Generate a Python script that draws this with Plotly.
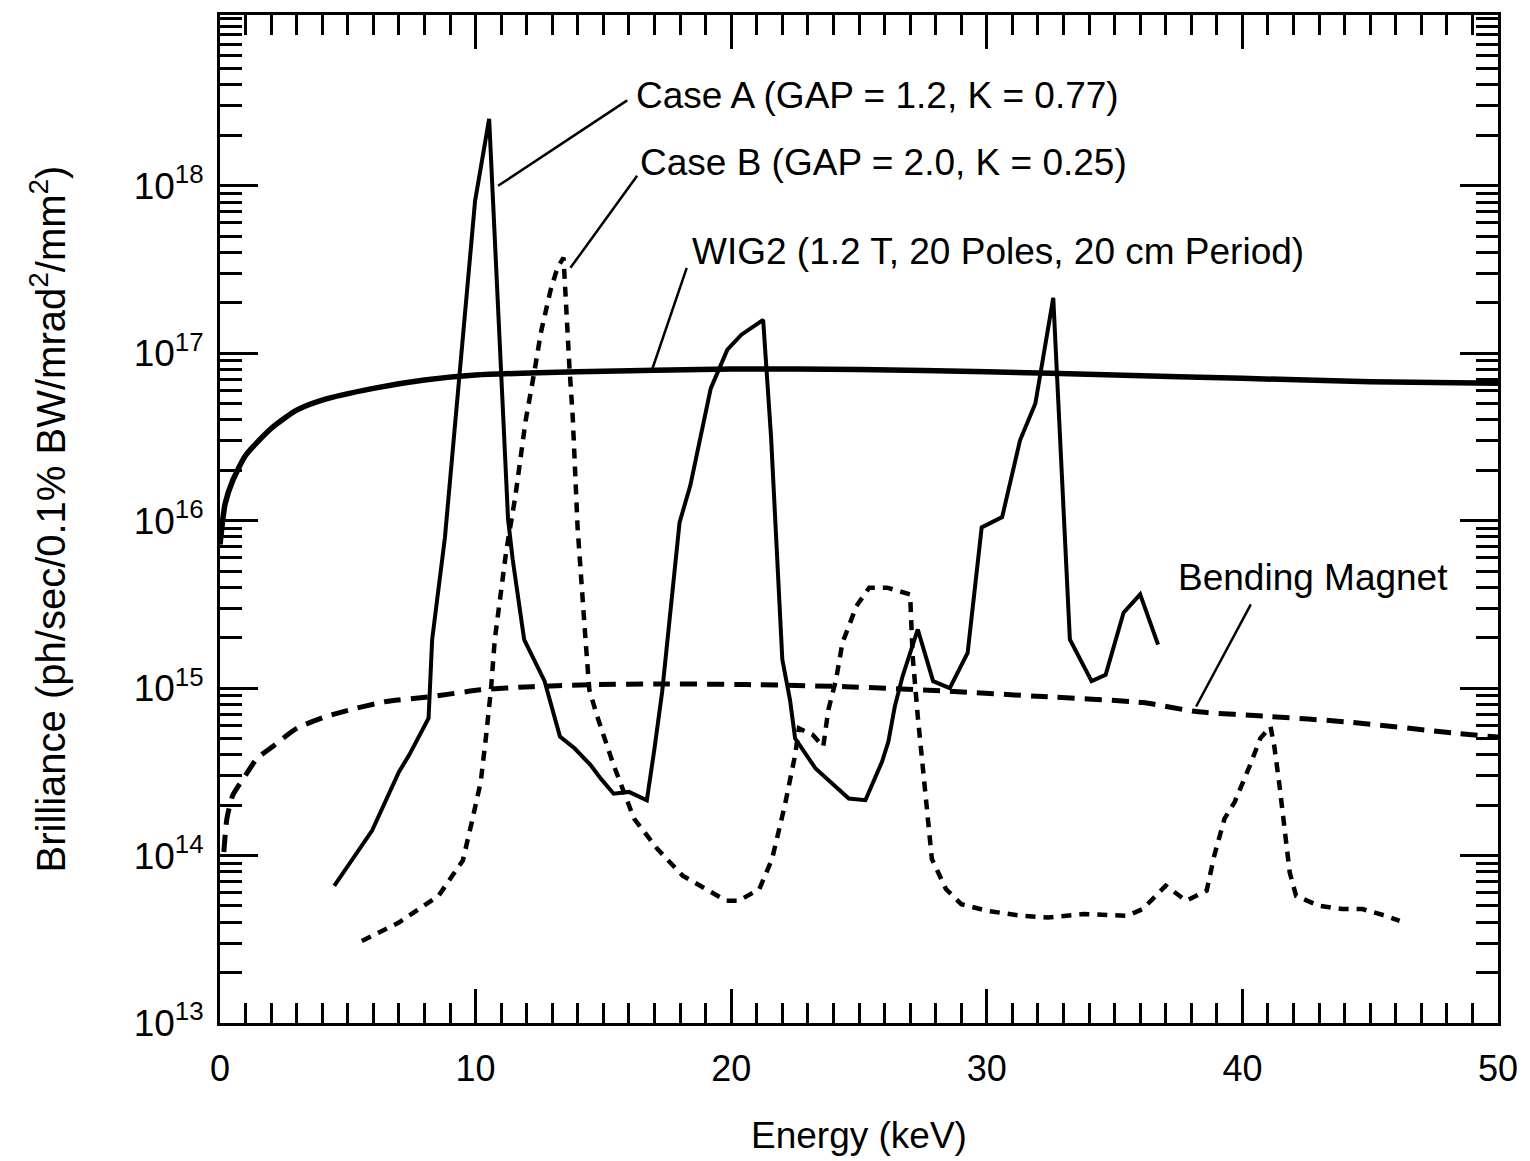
import plotly.graph_objects as go

# ---------------- data ----------------
wig2_energy = [0, 0.2, 0.5, 1, 2, 3, 4, 6, 8, 10, 14, 20, 25, 30, 35, 40, 45, 50]
wig2_brill = [7.2e15, 1.26e16, 1.74e16, 2.45e16, 3.55e16, 4.57e16, 5.25e16, 6.17e16,
              6.92e16, 7.41e16, 7.76e16, 8.04e16, 8.0e16, 7.76e16, 7.41e16, 7.08e16,
              6.76e16, 6.61e16]

bm_energy = [0.15, 0.27, 0.5, 1.0, 1.45, 2.05, 3.0, 4.15, 5.2, 6.5, 8.3, 10.2, 12.2,
             14.8, 17.0, 20.6, 24.5, 28.4, 32.2, 36.1, 38.2, 41.1, 44.0, 48.4, 50]
bm_brill = [1.05e14, 1.66e14, 2.29e14, 3.02e14, 3.8e14, 4.47e14, 5.75e14, 6.76e14,
            7.5e14, 8.32e14, 8.91e14, 9.77e14, 1.02e15, 1.05e15, 1.06e15, 1.05e15,
            1.02e15, 9.6e14, 8.9e14, 8.2e14, 7.24e14, 6.76e14, 6.3e14, 5.37e14, 5.1e14]

case_a_energy = [4.47, 5.95, 7.0, 7.4, 8.16, 8.3, 8.8, 9.32, 9.98, 10.53, 11.0, 11.27,
                 11.45, 11.9, 12.7, 13.3, 13.87, 14.5, 14.9, 15.4, 16.0, 16.7, 17.0,
                 17.3, 17.98, 18.4, 19.2, 19.85, 20.4, 21.25, 21.56, 21.9, 22.0, 22.3,
                 22.5, 23.3, 24.6, 25.25, 25.9, 26.15, 26.4, 26.7, 27.3, 27.9, 28.55,
                 29.25, 29.8, 30.6, 31.3, 31.9, 32.6, 33.25, 34.1, 34.65, 35.35, 36.0,
                 36.7]
case_a_brill = [6.6e13, 1.41e14, 3.16e14, 3.98e14, 6.61e14, 1.95e15, 7.94e15, 6.46e16,
                8.13e17, 2.51e18, 6.61e16, 1.02e16, 5.89e15, 1.95e15, 1.10e15, 5.13e14,
                4.37e14, 3.47e14, 2.88e14, 2.34e14, 2.40e14, 2.14e14, 4.37e14, 9.55e14,
                9.77e15, 1.62e16, 6.17e16, 1.05e17, 1.29e17, 1.58e17, 3.16e16, 3.39e15,
                1.48e15, 8.51e14, 5.01e14, 3.31e14, 2.19e14, 2.14e14, 3.63e14, 4.79e14,
                7.76e14, 1.17e15, 2.24e15, 1.10e15, 1.0e15, 1.62e15, 9.12e15, 1.05e16,
                3.02e16, 5.01e16, 2.14e17, 1.95e15, 1.10e15, 1.20e15, 2.82e15, 3.63e15,
                1.82e15]

case_b_energy = [5.55, 7.0, 8.55, 9.5, 9.85, 10.2, 10.4, 10.6, 10.75, 10.95, 11.2, 11.55,
                 11.96, 12.3, 12.55, 12.93, 13.2, 13.44, 13.52, 13.67, 13.8, 13.99, 14.3,
                 14.45, 14.76, 15.4, 16.2, 17.1, 18.1, 19.0, 19.8, 20.3, 21.1, 21.6, 22.1,
                 22.5, 22.65, 23.2, 23.6, 23.8, 24.1, 24.35, 24.9, 25.4, 26.1, 27.0, 27.1,
                 27.3, 27.5, 27.7, 27.85, 28.4, 29.0, 30.0, 31.35, 32.4, 33.8, 35.5, 36.1,
                 37.0, 37.8, 38.6, 38.9, 39.3, 39.7, 40.3, 40.7, 41.1, 41.25, 41.45, 41.65,
                 41.85, 42.1, 43.0, 43.9, 44.7, 45.6, 46.15]
case_b_brill = [3.09e13, 3.98e13, 5.75e13, 9.33e13, 1.58e14, 2.75e14, 5.01e14, 9.77e14,
                1.95e15, 3.39e15, 6.61e15, 1.38e16, 3.98e16, 7.76e16, 1.32e17, 2.37e17,
                3.24e17, 3.72e17, 2.09e17, 8.32e16, 4.17e16, 9.12e15, 1.95e15, 9.77e14,
                6.76e14, 3.47e14, 1.66e14, 1.10e14, 7.59e13, 6.31e13, 5.37e13, 5.37e13,
                6.31e13, 9.55e13, 2.0e14, 3.98e14, 5.75e14, 5.25e14, 4.47e14, 7.41e14,
                1.12e15, 1.86e15, 3.09e15, 3.98e15, 3.98e15, 3.63e15, 1.55e15, 6.76e14,
                3.47e14, 1.74e14, 9.55e13, 6.31e13, 5.13e13, 4.68e13, 4.37e13, 4.27e13,
                4.47e13, 4.37e13, 4.79e13, 6.61e13, 5.37e13, 6.17e13, 1.0e14, 1.66e14,
                2.09e14, 3.47e14, 5.01e14, 5.89e14, 4.47e14, 2.63e14, 1.45e14, 7.94e13,
                5.75e13, 5.01e13, 4.79e13, 4.79e13, 4.37e13, 4.07e13]

x_tick_vals = [0, 10, 20, 30, 40, 50]
y_tick_vals = [1e13, 1e14, 1e15, 1e16, 1e17, 1e18]
y_tick_text = ["10<sup>13</sup>", "10<sup>14</sup>", "10<sup>15</sup>",
               "10<sup>16</sup>", "10<sup>17</sup>", "10<sup>18</sup>"]

# labels: (text, text anchor energy, text anchor log10, leader from (E, log10) to (E, log10))
labels = [
    ("Case A (GAP = 1.2, K = 0.77)", 16.2, 18.54, (10.88, 18.0), (15.93, 18.51)),
    ("Case B (GAP = 2.0, K = 0.25)", 16.35, 18.14, (13.71, 17.51), (16.32, 18.06)),
    ("WIG2 (1.2 T, 20 Poles, 20 cm Period)", 18.4, 17.61, (16.9, 16.9), (18.26, 17.51)),
    ("Bending Magnet", 37.4, 15.66, (38.19, 14.89), (40.33, 15.5)),
]

Y_LOG_RANGE = [13, 19.02]
FONT = "Liberation Sans, Arial, Helvetica, sans-serif"


def ypaper(lg):
    return (lg - Y_LOG_RANGE[0]) / (Y_LOG_RANGE[1] - Y_LOG_RANGE[0])


fig = go.Figure()
fig.add_trace(go.Scatter(x=wig2_energy, y=wig2_brill, mode="lines", name="WIG2",
                         line=dict(color="black", width=5.5, shape="spline", smoothing=0.6)))
fig.add_trace(go.Scatter(x=bm_energy, y=bm_brill, mode="lines", name="Bending Magnet",
                         line=dict(color="black", width=5, dash="17px,10px",
                                   shape="spline", smoothing=0.6)))
fig.add_trace(go.Scatter(x=case_a_energy, y=case_a_brill, mode="lines", name="Case A",
                         line=dict(color="black", width=4)))
fig.add_trace(go.Scatter(x=case_b_energy, y=case_b_brill, mode="lines", name="Case B",
                         line=dict(color="black", width=4.5, dash="10px,8px")))

for text, tx, ty, p0, p1 in labels:
    fig.add_annotation(x=tx, y=ypaper(ty), xref="x", yref="paper", text=text,
                       showarrow=False, xanchor="left", yanchor="middle",
                       font=dict(family=FONT, size=37, color="black"))
    fig.add_shape(type="line", xref="x", yref="paper",
                  x0=p0[0], y0=ypaper(p0[1]), x1=p1[0], y1=ypaper(p1[1]),
                  line=dict(color="black", width=2.5))

fig.update_layout(
    width=1530, height=1161,
    margin=dict(l=220, r=23, t=12, b=136),
    paper_bgcolor="white", plot_bgcolor="white",
    showlegend=False,
    font=dict(family=FONT, color="black"),
)
fig.update_xaxes(
    range=[0, 50], tickvals=x_tick_vals, ticks="inside", ticklen=34, tickwidth=3,
    tickcolor="black", showline=True, linewidth=3, linecolor="black", mirror="allticks",
    showgrid=False, zeroline=False, tickfont=dict(family=FONT, size=36),
    ticklabelstandoff=12,
    minor=dict(ticks="inside", dtick=1, ticklen=20, tickwidth=2.5, tickcolor="black",
               showgrid=False),
    title=dict(text="Energy (keV)", font=dict(family=FONT, size=37), standoff=34),
)
fig.update_yaxes(
    type="log", range=Y_LOG_RANGE, tickvals=y_tick_vals, ticktext=y_tick_text,
    ticks="inside", ticklen=38, tickwidth=3, tickcolor="black", showline=True,
    linewidth=3, linecolor="black", mirror="allticks", showgrid=False, zeroline=False,
    tickfont=dict(family=FONT, size=37), ticklabelstandoff=6,
    minor=dict(ticks="inside", dtick="D1", ticklen=22, tickwidth=2.5, tickcolor="black",
               showgrid=False),
    title=dict(text="Brilliance (ph/sec/0.1% BW/mrad<sup>2</sup>/mm<sup>2</sup>)",
               font=dict(family=FONT, size=40), standoff=56),
)

fig.write_html("out.html")
